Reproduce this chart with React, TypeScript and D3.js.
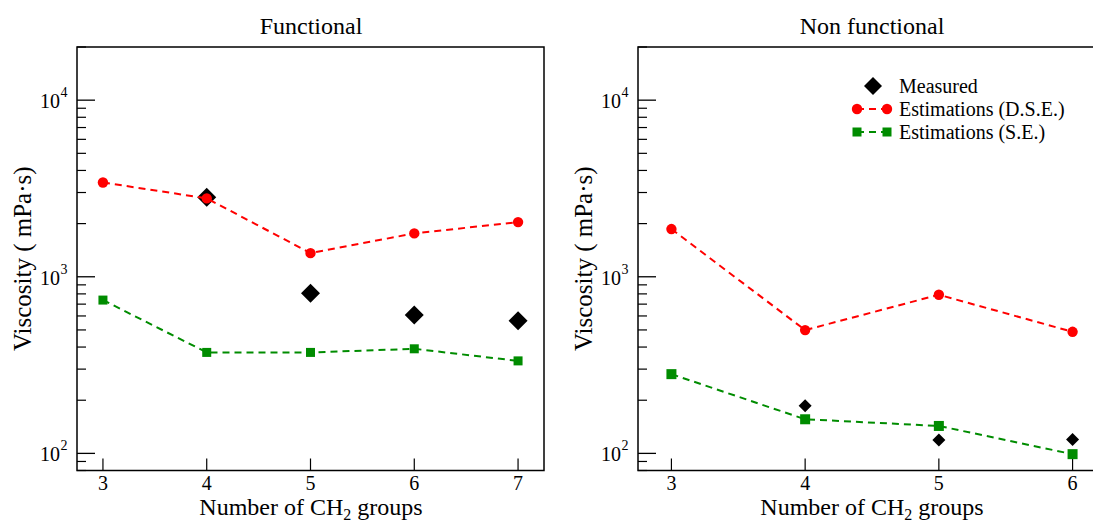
import React from "react";
import * as d3 from "d3";

const xFunctional = [3, 4, 5, 6, 7];
const measuredFunctionalX = [4, 5, 6, 7];
const measuredFunctional = [2820, 808, 607, 563];
const dseFunctional = [3420, 2780, 1362, 1760, 2040];
const seFunctional = [738, 373, 373, 391, 334];

const xNonFunctional = [3, 4, 5, 6];
const measuredNonFunctionalX = [4, 5, 6];
const measuredNonFunctional = [186, 119, 120];
const dseNonFunctional = [1863, 499, 791, 488];
const seNonFunctional = [281, 156, 143, 99];

const yTickLabels = [
  { v: 100, exp: "2" },
  { v: 1000, exp: "3" },
  { v: 10000, exp: "4" },
];
const legendLabels = ["Measured", "Estimations (D.S.E.)", "Estimations (S.E.)"];

const FONT = "'Liberation Serif', 'DejaVu Serif', serif";
const RED = "#ff0000";
const GREEN = "#008c00";

type PanelProps = {
  left: number;
  right: number;
  title: string;
  titleX: number;
  xs: number[];
  xDomain: [number, number];
  mx: number[];
  measured: number[];
  dse: number[];
  se: number[];
  diamond: number;
  sq: number;
  legend?: boolean;
};

const TOP = 47;
const BOTTOM = 470.5;

function Panel(p: PanelProps) {
  const x = d3.scaleLinear().domain(p.xDomain).range([p.left, p.right]);
  const y = d3.scaleLog().domain([80, 20000]).range([BOTTOM, TOP]);
  const line = d3
    .line<[number, number]>()
    .x((d) => x(d[0]))
    .y((d) => y(d[1]));
  const minor: number[] = [];
  for (const dec of [10, 100, 1000, 10000]) {
    for (let k = 2; k <= 9; k++) {
      const v = dec * k;
      if (v >= 80 && v <= 20000) minor.push(v);
    }
  }
  const yLabelX = p.left - 46;
  const yMid = (TOP + BOTTOM) / 2;
  const diamond = (px: number, py: number, s: number) =>
    `M${px},${py - s / 2}L${px + s / 2},${py}L${px},${py + s / 2}L${px - s / 2},${py}Z`;
  return (
    <g>
      <text x={p.titleX} y={34} textAnchor="middle" fontSize={24} fontFamily={FONT}>
        {p.title}
      </text>
      {yTickLabels.map((t) => (
        <g key={t.v}>
          <line x1={p.left} x2={p.left + 18} y1={y(t.v)} y2={y(t.v)} stroke="#000" strokeWidth={1.3} />
          <text x={p.left - 17} y={y(t.v) + 8} textAnchor="end" fontSize={20} fontFamily={FONT}>
            10
          </text>
          <text x={p.left - 16.5} y={y(t.v) - 3} textAnchor="start" fontSize={14} fontFamily={FONT}>
            {t.exp}
          </text>
        </g>
      ))}
      {minor.map((v) => (
        <line key={v} x1={p.left} x2={p.left + 9} y1={y(v)} y2={y(v)} stroke="#000" strokeWidth={1.2} />
      ))}
      {p.xs.map((v) => (
        <g key={v}>
          <line x1={x(v)} x2={x(v)} y1={BOTTOM} y2={BOTTOM - 12} stroke="#000" strokeWidth={1.2} />
          <text x={x(v)} y={BOTTOM + 19} textAnchor="middle" fontSize={20} fontFamily={FONT}>
            {v}
          </text>
        </g>
      ))}
      <text
        transform={`translate(${yLabelX},${yMid}) rotate(-90)`}
        textAnchor="middle"
        fontSize={25}
        fontFamily={FONT}
      >
        Viscosity ( mPa·s)
      </text>
      <text x={p.titleX} y={515} textAnchor="middle" fontSize={24} fontFamily={FONT}>
        Number of CH
        <tspan fontSize={16} dy={5}>2</tspan>
        <tspan dy={-5}> groups</tspan>
      </text>
      {p.mx.map((v, i) => (
        <path key={"m" + i} d={diamond(x(v), y(p.measured[i]), p.diamond)} fill="#000" />
      ))}
      <path
        d={line(p.xs.map((v, i) => [v, p.dse[i]] as [number, number])) || ""}
        fill="none"
        stroke={RED}
        strokeWidth={2}
        strokeDasharray="7,5"
      />
      {p.xs.map((v, i) => (
        <circle key={"r" + i} cx={x(v)} cy={y(p.dse[i])} r={5.2} fill={RED} />
      ))}
      <path
        d={line(p.xs.map((v, i) => [v, p.se[i]] as [number, number])) || ""}
        fill="none"
        stroke={GREEN}
        strokeWidth={2}
        strokeDasharray="7,5"
      />
      {p.xs.map((v, i) => (
        <rect
          key={"g" + i}
          x={x(v) - p.sq / 2}
          y={y(p.se[i]) - p.sq / 2}
          width={p.sq}
          height={p.sq}
          fill={GREEN}
        />
      ))}
      <rect x={p.left} y={TOP} width={p.right - p.left} height={BOTTOM - TOP} fill="none" stroke="#000" strokeWidth={1.5} />
      {p.legend && (
        <g fontFamily={FONT} fontSize={20}>
          <path d={diamond(873, 86, 18)} fill="#000" />
          <text x={899} y={93}>{legendLabels[0]}</text>
          <line x1={857} x2={888} y1={109} y2={109} stroke={RED} strokeWidth={2} strokeDasharray="7,5" />
          <circle cx={857} cy={109} r={5.2} fill={RED} />
          <circle cx={887} cy={109} r={5.2} fill={RED} />
          <text x={899} y={116}>{legendLabels[1]}</text>
          <line x1={857} x2={888} y1={132} y2={132} stroke={GREEN} strokeWidth={2} strokeDasharray="7,5" />
          <rect x={852.5} y={127.5} width={9} height={9} fill={GREEN} />
          <rect x={882.5} y={127.5} width={9} height={9} fill={GREEN} />
          <text x={899} y={139}>{legendLabels[2]}</text>
        </g>
      )}
    </g>
  );
}

export default function App() {
  return (
    <svg
      width={1093}
      height={523}
      style={{ position: "absolute", left: 0, top: 0, background: "#fff", display: "block" }}
    >
      <rect width={1093} height={523} fill="#fff" />
      <Panel
        left={77}
        right={544}
        title="Functional"
        titleX={311}
        xs={xFunctional}
        xDomain={[2.75, 7.25]}
        mx={measuredFunctionalX}
        measured={measuredFunctional}
        dse={dseFunctional}
        se={seFunctional}
        diamond={19}
        sq={9}
      />
      <Panel
        left={638}
        right={1106}
        title="Non functional"
        titleX={872}
        xs={xNonFunctional}
        xDomain={[2.75, 6.25]}
        mx={measuredNonFunctionalX}
        measured={measuredNonFunctional}
        dse={dseNonFunctional}
        se={seNonFunctional}
        diamond={13}
        sq={10}
        legend
      />
    </svg>
  );
}
